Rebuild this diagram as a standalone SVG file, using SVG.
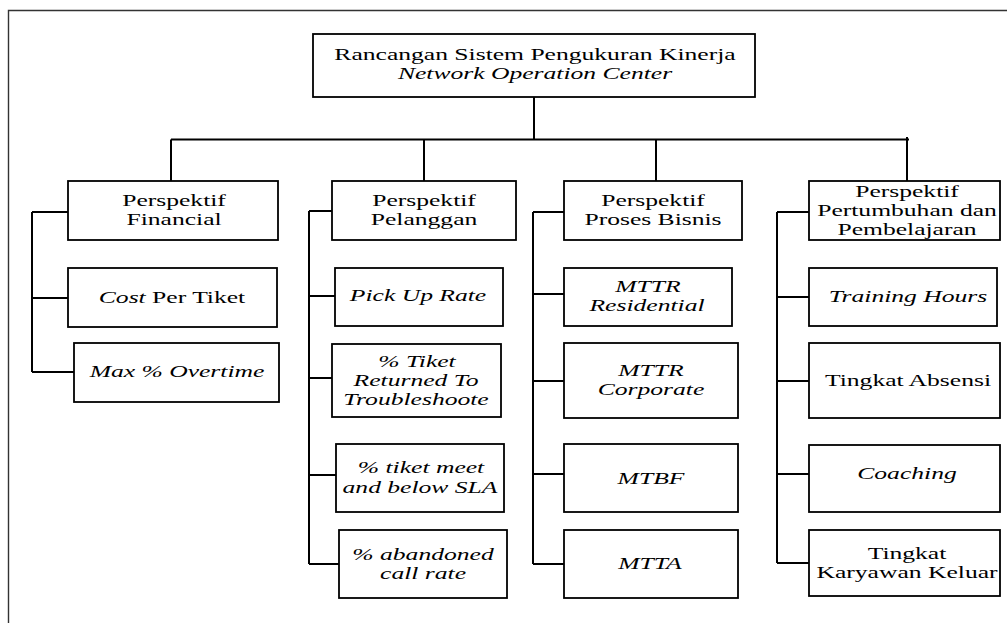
<svg xmlns="http://www.w3.org/2000/svg" width="1007" height="623" viewBox="0 0 1007 623">
<style>
.box{fill:#fff;stroke:#000;stroke-width:1.8}
.ln{fill:none;stroke:#000;stroke-width:2}
.frame{fill:none;stroke:#333;stroke-width:1.4}
text{font-family:"Liberation Serif","Times New Roman",serif;font-size:16px;fill:#000;text-anchor:middle}
.i{font-style:italic}
</style>
<defs>
<clipPath id="clipR"><rect x="380" y="417.5" width="70" height="15"/></clipPath>
</defs>
<rect x="0" y="0" width="1007" height="623" fill="#fff"/>
<path class="frame" d="M8.5 623 V10.5 H1007"/>
<g id="connectors">
<path class="ln" d="M534 97 V139.5 M171 139.5 H909 M171 139.5 V181 M424 139.5 V181 M656 139.5 V181 M907 137 V181"/>
<path class="ln" d="M32 212 V372 M32 212 H68 M32 298 H68 M32 372 H74"/>
<path class="ln" d="M309 211 V564 M309 211 H332 M309 296 H340 M309 378 H332 M309 475 H339 M309 564 H339"/>
<path class="ln" d="M533 212 V564 M533 212 H564 M533 294 H564 M533 381 H568 M533 474 H564 M533 564 H564"/>
<path class="ln" d="M777 212 V563 M777 212 H809 M777 297 H809 M777 381 H809 M777 474 H812 M777 563 H809"/>
</g>
<g id="root">
<rect class="box" x="313" y="34" width="442" height="63"/>
<text transform="translate(535 0) scale(1.6 1)" y="60">Rancangan Sistem Pengukuran Kinerja</text>
<text class="i" transform="translate(535 0) scale(1.6 1)" y="79">Network Operation Center</text>
</g>
<g id="p-financial">
<rect class="box" x="68" y="181" width="210" height="59"/>
<text transform="translate(174 0) scale(1.6 1)" y="206">Perspektif</text>
<text transform="translate(174 0) scale(1.6 1)" y="225">Financial</text>
</g>
<g id="cost-per-tiket">
<rect class="box" x="68" y="268" width="209" height="59"/>
<text transform="translate(172 0) scale(1.6 1)" y="303"><tspan class="i">Cost</tspan> Per Tiket</text>
</g>
<g id="max-overtime">
<rect class="box" x="74" y="343" width="205" height="59"/>
<text class="i" transform="translate(177 0) scale(1.6 1)" y="377">Max % Overtime</text>
</g>
<g id="p-pelanggan">
<rect class="box" x="332" y="181" width="184" height="59"/>
<text transform="translate(424 0) scale(1.6 1)" y="206">Perspektif</text>
<text transform="translate(424 0) scale(1.6 1)" y="225">Pelanggan</text>
</g>
<g id="pick-up-rate">
<rect class="box" x="335" y="268" width="168" height="58"/>
<text class="i" transform="translate(418 0) scale(1.6 1)" y="301">Pick Up Rate</text>
</g>
<g id="tiket-returned">
<text class="i" clip-path="url(#clipR)" transform="translate(414 0) scale(1.6 1)" y="424">r</text>
<rect class="box" x="332" y="344" width="169" height="73"/>
<text class="i" transform="translate(417 0) scale(1.6 1)" y="367">% Tiket</text>
<text class="i" transform="translate(416 0) scale(1.6 1)" y="386">Returned To</text>
<text class="i" transform="translate(416 0) scale(1.6 1)" y="405">Troubleshoote</text>
</g>
<g id="tiket-meet-sla">
<rect class="box" x="336" y="444" width="168" height="68"/>
<text class="i" transform="translate(421 0) scale(1.6 1)" y="473">% tiket meet</text>
<text class="i" transform="translate(420 0) scale(1.6 1)" y="493">and below SLA</text>
</g>
<g id="abandoned-call">
<rect class="box" x="339" y="530" width="168" height="68"/>
<text class="i" transform="translate(423 0) scale(1.6 1)" y="560">% abandoned</text>
<text class="i" transform="translate(423 0) scale(1.6 1)" y="579">call rate</text>
</g>
<g id="p-proses-bisnis">
<rect class="box" x="564" y="181" width="178" height="59"/>
<text transform="translate(653 0) scale(1.6 1)" y="206">Perspektif</text>
<text transform="translate(653 0) scale(1.6 1)" y="225">Proses Bisnis</text>
</g>
<g id="mttr-residential">
<rect class="box" x="564" y="268" width="168" height="58"/>
<text class="i" transform="translate(648 0) scale(1.6 1)" y="292">MTTR</text>
<text class="i" transform="translate(647 0) scale(1.6 1)" y="311">Residential</text>
</g>
<g id="mttr-corporate">
<rect class="box" x="564" y="343" width="174" height="75"/>
<text class="i" transform="translate(651 0) scale(1.6 1)" y="376">MTTR</text>
<text class="i" transform="translate(651 0) scale(1.6 1)" y="395">Corporate</text>
</g>
<g id="mtbf">
<rect class="box" x="564" y="444" width="174" height="68"/>
<text class="i" transform="translate(651 0) scale(1.6 1)" y="484">MTBF</text>
</g>
<g id="mtta">
<rect class="box" x="564" y="530" width="174" height="68"/>
<text class="i" transform="translate(650 0) scale(1.6 1)" y="569">MTTA</text>
</g>
<g id="p-pertumbuhan">
<rect class="box" x="809" y="181" width="191" height="59"/>
<text transform="translate(907 0) scale(1.6 1)" y="197">Perspektif</text>
<text transform="translate(907 0) scale(1.6 1)" y="216">Pertumbuhan dan</text>
<text transform="translate(907 0) scale(1.6 1)" y="235">Pembelajaran</text>
</g>
<g id="training-hours">
<rect class="box" x="809" y="268" width="188" height="58"/>
<text class="i" transform="translate(908 0) scale(1.6 1)" y="302">Training Hours</text>
</g>
<g id="tingkat-absensi">
<rect class="box" x="809" y="343" width="191" height="75"/>
<text transform="translate(908 0) scale(1.6 1)" y="386">Tingkat Absensi</text>
</g>
<g id="coaching">
<rect class="box" x="809" y="445" width="191" height="67"/>
<text class="i" transform="translate(907 0) scale(1.6 1)" y="479">Coaching</text>
</g>
<g id="tingkat-karyawan-keluar">
<rect class="box" x="809" y="530" width="191" height="66"/>
<text transform="translate(907 0) scale(1.6 1)" y="559">Tingkat</text>
<text transform="translate(907 0) scale(1.6 1)" y="578">Karyawan Keluar</text>
</g>
</svg>
